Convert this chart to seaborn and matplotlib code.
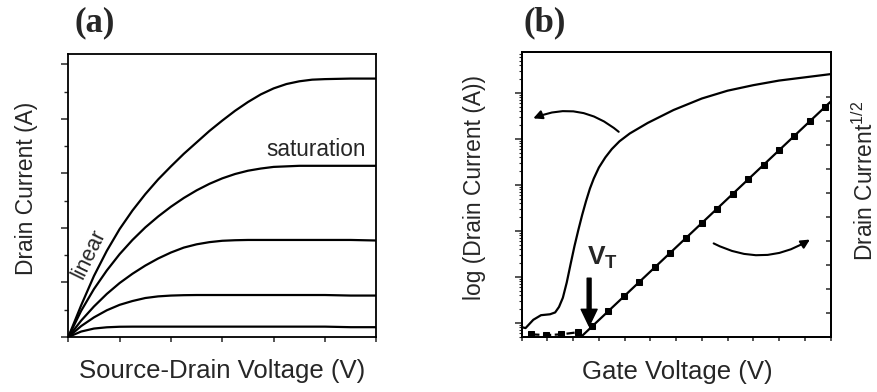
import numpy as np
import pandas as pd
import matplotlib
matplotlib.use("Agg")
import matplotlib.pyplot as plt
import seaborn as sns
from matplotlib.ticker import MultipleLocator, LogLocator, NullFormatter, FixedLocator

# ---------------- Panel (a): output characteristics ----------------
vsd = [0.0, 0.25, 0.5, 0.75, 1.0, 1.25, 1.5, 1.75, 2.0, 2.25, 2.5, 2.75, 3.0, 3.25,
       3.5, 3.75, 4.0, 4.25, 4.5, 4.75, 5.0, 5.5, 6.0]
id_g1 = [0.0, 0.58, 1.12, 1.58, 1.98, 2.32, 2.62, 2.89, 3.13, 3.36, 3.57, 3.78, 3.97, 4.15,
         4.31, 4.45, 4.56, 4.64, 4.69, 4.72, 4.73, 4.74, 4.74]
id_g2 = [0.0, 0.48, 0.88, 1.22, 1.52, 1.78, 2.01, 2.21, 2.39, 2.55, 2.69, 2.81, 2.91, 2.99,
         3.05, 3.09, 3.12, 3.13, 3.14, 3.14, 3.14, 3.14, 3.14]
id_g3 = [0.0, 0.30, 0.56, 0.79, 0.99, 1.16, 1.31, 1.44, 1.55, 1.64, 1.70, 1.74, 1.765, 1.775,
         1.78, 1.78, 1.78, 1.78, 1.78, 1.78, 1.78, 1.78, 1.77]
id_g4 = [0.0, 0.20, 0.36, 0.49, 0.59, 0.66, 0.715, 0.745, 0.76, 0.767, 0.77, 0.77, 0.77, 0.77,
         0.77, 0.77, 0.77, 0.77, 0.77, 0.77, 0.77, 0.76, 0.76]
id_g5 = [0.0, 0.10, 0.155, 0.178, 0.188, 0.19, 0.19, 0.19, 0.19, 0.19, 0.19, 0.19, 0.19, 0.19,
         0.19, 0.19, 0.19, 0.19, 0.19, 0.19, 0.19, 0.18, 0.18]
curve_names = ["g1", "g2", "g3", "g4", "g5"]

# ---------------- Panel (b): transfer characteristics ----------------
vg_log = [0.0, 0.15, 0.45, 0.75, 1.1, 1.3, 1.45, 1.6, 1.75, 1.9, 2.05, 2.2, 2.35, 2.5,
          2.65, 2.8, 3.0, 3.25, 3.5, 3.8, 4.2, 4.9, 5.9, 7.0, 8.0, 9.0, 10.0, 11.0, 12.0]
log10_id = [-11.09, -11.11, -10.93, -10.83, -10.81, -10.77, -10.65, -10.45, -10.12, -9.72,
            -9.33, -8.98, -8.65, -8.35, -8.08, -7.86, -7.62, -7.40, -7.22, -7.05, -6.88,
            -6.65, -6.37, -6.12, -5.95, -5.83, -5.73, -5.66, -5.59]

vg_off = [0.37, 0.95, 1.54, 2.19]
sqrt_off = [0.11, 0.08, 0.11, 0.20]

vg_on = [2.75, 3.36, 3.98, 4.57, 5.18, 5.77, 6.4, 7.0, 7.6, 8.2, 8.8, 9.4, 10.0, 10.6, 11.2, 11.8]
sqrt_on = [0.45, 1.07, 1.70, 2.29, 2.91, 3.50, 4.14, 4.75, 5.35, 5.96, 6.57, 7.17, 7.78, 8.38, 8.99, 9.60]

fit_vg = [2.3, 12.0]
fit_sqrt = [0.0, 9.8]
vt_value = 2.62

# ---------------- style ----------------
sns.set_theme(style="ticks")
plt.rcParams["font.family"] = ["Liberation Sans", "DejaVu Sans"]
plt.rcParams["mathtext.fontset"] = "custom"
plt.rcParams["mathtext.rm"] = "Liberation Sans"
plt.rcParams["mathtext.bf"] = "Liberation Sans:bold"
plt.rcParams["mathtext.default"] = "regular"

fig = plt.figure(figsize=(8.77, 3.92), dpi=100)
W, H = 877.0, 392.0
ax_a = fig.add_axes([68.3 / W, (H - 337) / H, (376.3 - 68.3) / W, (337 - 53.5) / H])
ax_b = fig.add_axes([521.7 / W, (H - 337) / H, (830.5 - 521.7) / W, (337 - 52) / H])

lw_curve = 1.6
spine_w = 1.3
xlabel_fs = 18.5
ylabel_fs = 16.4

# ---- panel (a)
df_a = pd.DataFrame({
    "vsd": vsd * 5,
    "id": id_g1 + id_g2 + id_g3 + id_g4 + id_g5,
    "curve": sum([[n] * len(vsd) for n in curve_names], []),
})
sns.lineplot(data=df_a, x="vsd", y="id", hue="curve", units="curve", estimator=None,
             palette={n: "black" for n in curve_names}, legend=False, lw=lw_curve, ax=ax_a)
ax_a.set_xlim(0, 6)
ax_a.set_ylim(0, 5.2)
ax_a.xaxis.set_major_locator(MultipleLocator(1))
ax_a.yaxis.set_major_locator(MultipleLocator(1))
ax_a.yaxis.set_minor_locator(MultipleLocator(0.5))
ax_a.set_xticklabels([])
ax_a.set_yticklabels([])
ax_a.tick_params(axis="y", which="major", direction="out", length=5, width=1.1, left=True, right=False)
ax_a.tick_params(axis="y", which="minor", direction="out", length=3, width=1.0, left=True, right=False)
ax_a.tick_params(axis="x", which="major", direction="out", length=3.5, width=1.1, bottom=True, top=False)
ax_a.set_xlabel("Source-Drain Voltage (V)", fontsize=xlabel_fs)
ax_a.set_ylabel("Drain Current (A)", fontsize=ylabel_fs)
ax_a.xaxis.set_label_coords(0.501, -0.078)
ax_a.yaxis.set_label_coords(-0.0985, 0.526)
for s in ax_a.spines.values():
    s.set_visible(True)
    s.set_linewidth(spine_w)
    s.set_color("black")
ax_a.text(4.83, 3.43, "saturation", fontsize=16.3, ha="center", va="center")
ax_a.text(0.40, 1.52, "linear", fontsize=15.5, rotation=64, ha="center", va="center")

# ---- panel (b) left: log current
sns.lineplot(x=vg_log, y=10 ** np.array(log10_id), color="black", lw=lw_curve, ax=ax_b)
ax_b.set_yscale("log")
ax_b.set_xlim(0, 12)
ax_b.set_ylim(10 ** -11.304, 10 ** -5.109)
ax_b.xaxis.set_major_locator(MultipleLocator(1))
ax_b.yaxis.set_major_locator(LogLocator(base=10, numticks=20))
ax_b.yaxis.set_minor_locator(LogLocator(base=10, subs=np.arange(2, 10), numticks=50))
ax_b.yaxis.set_major_formatter(NullFormatter())
ax_b.yaxis.set_minor_formatter(NullFormatter())
ax_b.set_xticklabels([])
ax_b.tick_params(axis="y", which="major", direction="out", length=5, width=1.1, left=True, right=False)
ax_b.tick_params(axis="y", which="minor", direction="out", length=2.5, width=0.8, left=True, right=False)
ax_b.tick_params(axis="x", which="major", direction="out", length=3, width=1.1, bottom=True, top=False)
ax_b.set_xlabel("Gate Voltage (V)", fontsize=xlabel_fs)
ax_b.set_ylabel("log (Drain Current (A))", fontsize=ylabel_fs)
ax_b.xaxis.set_label_coords(0.503, -0.081)
ax_b.yaxis.set_label_coords(-0.1156, 0.525)
for s in ax_b.spines.values():
    s.set_visible(True)
    s.set_linewidth(spine_w)
    s.set_color("black")

# ---- panel (b) right: sqrt current
ax2 = ax_b.twinx()
sns.lineplot(x=fit_vg, y=fit_sqrt, color="black", lw=lw_curve, ax=ax2)
sns.lineplot(x=vg_on, y=sqrt_on, color="black", lw=0, marker="s", markersize=5,
             markeredgecolor="black", ax=ax2)
sns.lineplot(x=vg_off, y=sqrt_off, color="black", lw=1.6, ls="--", marker="s",
             markersize=5, markeredgecolor="black", ax=ax2)
ax2.set_ylim(0, 11.875)
ax2.yaxis.set_major_locator(FixedLocator(np.arange(0, 11)))
ax2.set_yticklabels([])
ax2.tick_params(axis="y", which="major", direction="in", length=3.5, width=1.1, right=True, left=False)
ax2.set_ylabel("Drain Current$^{1/2}$", fontsize=ylabel_fs)
ax2.yaxis.set_label_coords(1.071, 0.549)
for s in ax2.spines.values():
    s.set_linewidth(spine_w)
    s.set_color("black")

# annotations
ax2.annotate("", xy=(0.45, 9.11), xytext=(3.77, 8.55),
             arrowprops=dict(arrowstyle="-|>", connectionstyle="arc3,rad=0.3", color="black",
                             lw=1.5, mutation_scale=13, shrinkA=0, shrinkB=0))
ax2.annotate("", xy=(11.2, 4.06), xytext=(7.46, 3.9),
             arrowprops=dict(arrowstyle="-|>", connectionstyle="arc3,rad=0.28", color="black",
                             lw=1.5, mutation_scale=13, shrinkA=0, shrinkB=0))
ax2.annotate("", xy=(vt_value, 0.46), xytext=(vt_value, 2.45),
             arrowprops=dict(facecolor="black", edgecolor="black", width=2.8,
                             headwidth=11.5, headlength=12, shrink=0))
ax2.text(2.52, 3.0, r"$\mathbf{V}_{\mathbf{T}}$", fontsize=19, ha="left", va="baseline")

fig.text(95 / W, 1 - 23 / H, "(a)", fontfamily="Liberation Serif", fontweight="bold",
         fontsize=25, ha="center", va="center")
fig.text(545 / W, 1 - 23 / H, "(b)", fontfamily="Liberation Serif", fontweight="bold",
         fontsize=25, ha="center", va="center")

fig.savefig("out.png", dpi=100)
